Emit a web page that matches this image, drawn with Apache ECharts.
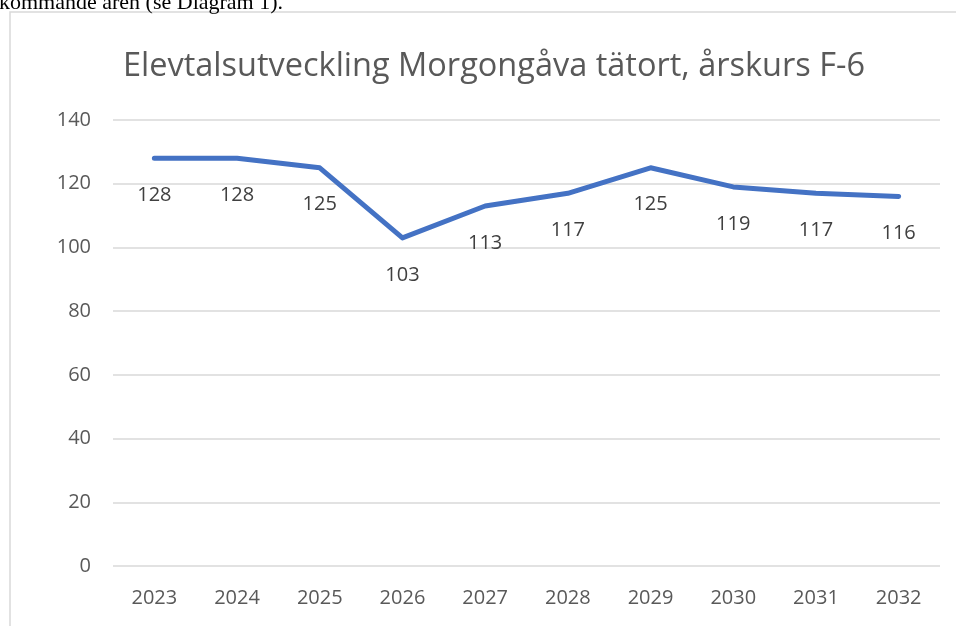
<!DOCTYPE html>
<html>
<head>
<meta charset="utf-8" />
<title>Elevtalsutveckling</title>
<script src="https://cdn.jsdelivr.net/npm/echarts@6/dist/echarts.min.js"></script>
<style>
	body{margin:0;background:#fff;}
	#main{width:956px;height:626px;}
</style>
</head>
<body>
<div id="main"></div>
<script type="text/javascript">
	var years = ['2023','2024','2025','2026','2027','2028','2029','2030','2031','2032'];
	var elever = [128, 128, 125, 103, 113, 117, 125, 119, 117, 116];
	var yTicks = [0, 20, 40, 60, 80, 100, 120, 140];

	var myChart = echarts.init(document.getElementById('main'));
	var option = {
		backgroundColor: '#fff',
		animation: false,
		title: {
			text: 'Elevtalsutveckling Morgongåva tätort, årskurs F-6',
			left: 489,
			top: 45,
			textAlign: 'center',
			textStyle: {fontFamily: 'Open Sans', fontSize: 32.5, fontWeight: 'normal', color: '#595959'}
		},
		graphic: [
			// ram runt diagrammet
			{type: 'rect', shape: {x: 10, y: 12, width: 1000, height: 700}, style: {fill: 'none', stroke: '#d9d9d9', lineWidth: 1.5}},
			// avklippt brödtext ovanför
			{type: 'text', left: -1, top: -8, style: {text: 'kommande åren (se Diagram 1).', font: '22px "Liberation Serif"', fill: '#000'}}
		],
		grid: {left: 113, right: 16, top: 120, bottom: 60},
		xAxis: {
			type: 'category',
			data: years,
			boundaryGap: true,
			axisLine: {show: false},
			axisTick: {show: false},
			axisLabel: {fontFamily: 'Open Sans', fontSize: 20, color: '#595959', margin: 22}
		},
		yAxis: {
			type: 'value',
			min: yTicks[0],
			max: yTicks[yTicks.length - 1],
			interval: 20,
			axisLine: {show: false},
			axisTick: {show: false},
			axisLabel: {fontFamily: 'Open Sans', fontSize: 20, color: '#595959', margin: 22},
			splitLine: {lineStyle: {color: '#d9d9d9', width: 1.5}}
		},
		series: [{
			type: 'line',
			data: elever,
			showSymbol: true,
			symbol: 'circle',
			symbolSize: 4,
			lineStyle: {color: '#4472C4', width: 5, cap: 'round', join: 'round'},
			itemStyle: {color: 'rgba(0,0,0,0)', borderWidth: 0},
			label: {
				show: true,
				position: 'bottom',
				distance: 25,
				fontFamily: 'Open Sans',
				fontSize: 20,
				color: '#404040'
			}
		}]
	};
	myChart.setOption(option);
</script>
</body>
</html>
